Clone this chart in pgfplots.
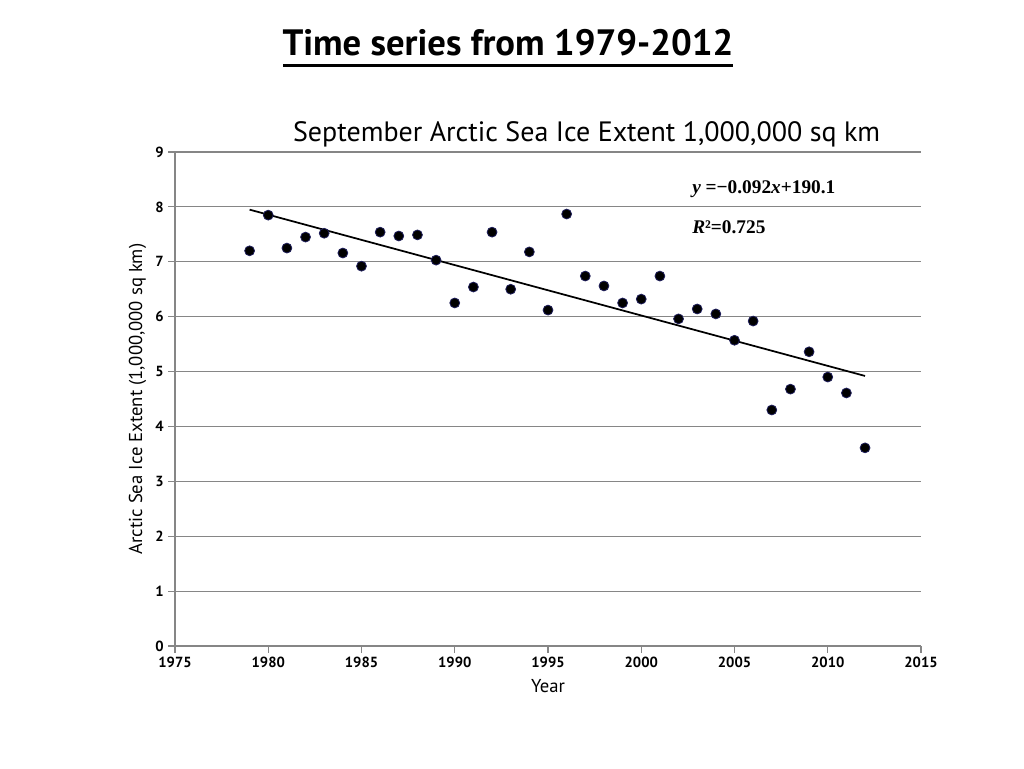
\documentclass[border=0pt]{standalone}
\usepackage{fontspec}
\setmainfont{PT Sans}
\newfontfamily\eqfont{Liberation Serif}
\usepackage{pgfplots}
\pgfplotsset{compat=1.18}

\definecolor{gridgray}{RGB}{134,134,134}
\definecolor{dotedge}{RGB}{30,30,90}

% September extent, millions of sq km
\begin{document}
\begin{tikzpicture}[x=1pt,y=1pt]
\useasboundingbox (0,0) rectangle (768,576);

% page title
\node[anchor=base,font=\fontsize{27.5}{30}\selectfont\bfseries] (ttl) at (381,534) {Time series from 1979-2012};
\draw[line width=2.2pt] (212.5,527) -- (549.5,527);

\begin{axis}[
  scale only axis,
  width=559.5pt, height=370.5pt,
  at={(131.25pt,91.5pt)}, anchor=south west,
  xmin=1975, xmax=2015, ymin=0, ymax=9,
  xtick={1975,1980,...,2015},
  ytick={0,1,...,9},
  axis lines*=left,
  axis line style={gridgray,line width=0.8pt,-},
  ymajorgrids,
  grid style={gridgray,line width=0.8pt},
  tick align=outside,
  major tick length=5pt,
  tick style={gridgray,line width=0.8pt},
  ticklabel style={font=\fontsize{11}{12}\selectfont\bfseries},
  /pgf/number format/assume math mode=true,
  x tick label style={/pgf/number format/1000 sep={}},
  xlabel={Year},
  ylabel={Arctic Sea Ice Extent (1,000,000 sq km)},
  label style={font=\fontsize{14}{16}\selectfont},
  xlabel style={yshift=-2pt},
  clip=false,
]
\addplot[black,line width=1.3pt] coordinates {(1979,7.95) (2012,4.92)};
\addplot[only marks, mark=*, mark size=3.7pt,
  mark options={fill=black,draw=dotedge,line width=0.6pt}] coordinates {
(1979,7.20) (1980,7.85) (1981,7.25) (1982,7.45) (1983,7.52)
(1984,7.16) (1985,6.92) (1986,7.54) (1987,7.47) (1988,7.49)
(1989,7.03) (1990,6.25) (1991,6.54) (1992,7.54) (1993,6.50)
(1994,7.18) (1995,6.12) (1996,7.87) (1997,6.74) (1998,6.56)
(1999,6.25) (2000,6.32) (2001,6.74) (2002,5.96) (2003,6.14)
(2004,6.05) (2005,5.57) (2006,5.92) (2007,4.30) (2008,4.68)
(2009,5.36) (2010,4.90) (2011,4.61) (2012,3.61)
};
\end{axis}

% chart title and fit labels
\node[anchor=base,font=\fontsize{21}{24}\selectfont] at (440,470) {September Arctic Sea Ice Extent 1,000,000 sq km};
\node[anchor=base west,inner sep=0pt,font=\eqfont\fontsize{14.5}{16}\selectfont\bfseries] at (519,431)
  {\itshape y\upshape\ =−0.092\itshape x\upshape +190.1};
\node[anchor=base west,inner sep=0pt,font=\eqfont\fontsize{14.5}{16}\selectfont\bfseries] at (519,400.5)
  {\itshape R\upshape ²=0.725};
\end{tikzpicture}
\end{document}
